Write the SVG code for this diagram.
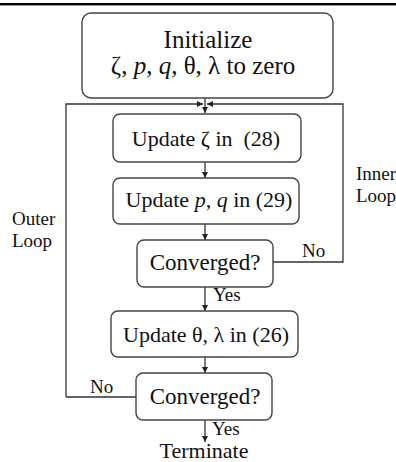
<svg xmlns="http://www.w3.org/2000/svg" width="396" height="462" viewBox="0 0 396 462">
<defs>
<style>
.box{fill:#fff;stroke:#444;stroke-width:1.4}
.ln{fill:none;stroke:#333;stroke-width:1.3}
.t{font-family:"Liberation Serif","Times New Roman",serif;fill:#111;text-anchor:middle}
.l{font-family:"Liberation Serif","Times New Roman",serif;fill:#111}
</style>
<marker id="ah" viewBox="0 0 10 10" refX="10" refY="5" markerWidth="6" markerHeight="6" markerUnits="userSpaceOnUse" orient="auto">
<path d="M0,0 L10,5 L0,10 z" fill="#222"/>
</marker>
</defs>
<rect width="396" height="462" fill="#fff"/>
<rect x="0" y="3" width="396" height="2.4" fill="#000"/>
<g id="connectors">
<path class="ln" d="M205,98 V113" marker-end="url(#ah)"/>
<path class="ln" d="M66,397 H136 M66,397 V104 H203" marker-end="url(#ah)"/>
<path class="ln" d="M273,262 H343 V104 H207" marker-end="url(#ah)"/>
<path class="ln" d="M205,162 V178" marker-end="url(#ah)"/>
<path class="ln" d="M205,224 V240" marker-end="url(#ah)"/>
<path class="ln" d="M205,287 V311" marker-end="url(#ah)"/>
<path class="ln" d="M205,357 V373" marker-end="url(#ah)"/>
<path class="ln" d="M205,420 V442" marker-end="url(#ah)"/>
<text class="l" x="12" y="225" font-size="19">Outer</text>
<text class="l" x="12" y="247" font-size="19">Loop</text>
<text class="l" x="356" y="180" font-size="19">Inner</text>
<text class="l" x="356" y="202" font-size="19">Loop</text>
<text class="l" x="302" y="257" font-size="19">No</text>
<text class="l" x="213" y="301" font-size="19">Yes</text>
<text class="l" x="90" y="393" font-size="19">No</text>
<text class="l" x="212" y="435" font-size="19">Yes</text>
</g>
<g id="init">
<rect class="box" x="82" y="13" width="251" height="85" rx="9"/>
<text class="t" x="208" y="48" font-size="25">Initialize</text>
<text class="t" x="203" y="74" font-size="25">ζ, <tspan font-style="italic">p</tspan>, <tspan font-style="italic">q</tspan>, θ, λ to zero</text>
</g>
<g id="update-zeta">
<rect class="box" x="113" y="114" width="188" height="48" rx="7"/>
<text class="t" x="206" y="146" font-size="22">Update ζ in &#160;(28)</text>
</g>
<g id="update-pq">
<rect class="box" x="113" y="178" width="186" height="46" rx="7"/>
<text class="t" x="209" y="207" font-size="22">Update <tspan font-style="italic">p</tspan>, <tspan font-style="italic">q</tspan> in (29)</text>
</g>
<g id="converged-inner">
<rect class="box" x="137" y="240" width="136" height="47" rx="7"/>
<text class="t" x="205" y="270" font-size="23">Converged?</text>
</g>
<g id="update-theta">
<rect class="box" x="111" y="311" width="187" height="46" rx="7"/>
<text class="t" x="206" y="342" font-size="22">Update θ, λ in (26)</text>
</g>
<g id="converged-outer">
<rect class="box" x="136" y="373" width="136" height="47" rx="7"/>
<text class="t" x="205" y="404" font-size="23">Converged?</text>
</g>
<g id="terminate">
<text class="t" x="204" y="458" font-size="22">Terminate</text>
</g>
</svg>
